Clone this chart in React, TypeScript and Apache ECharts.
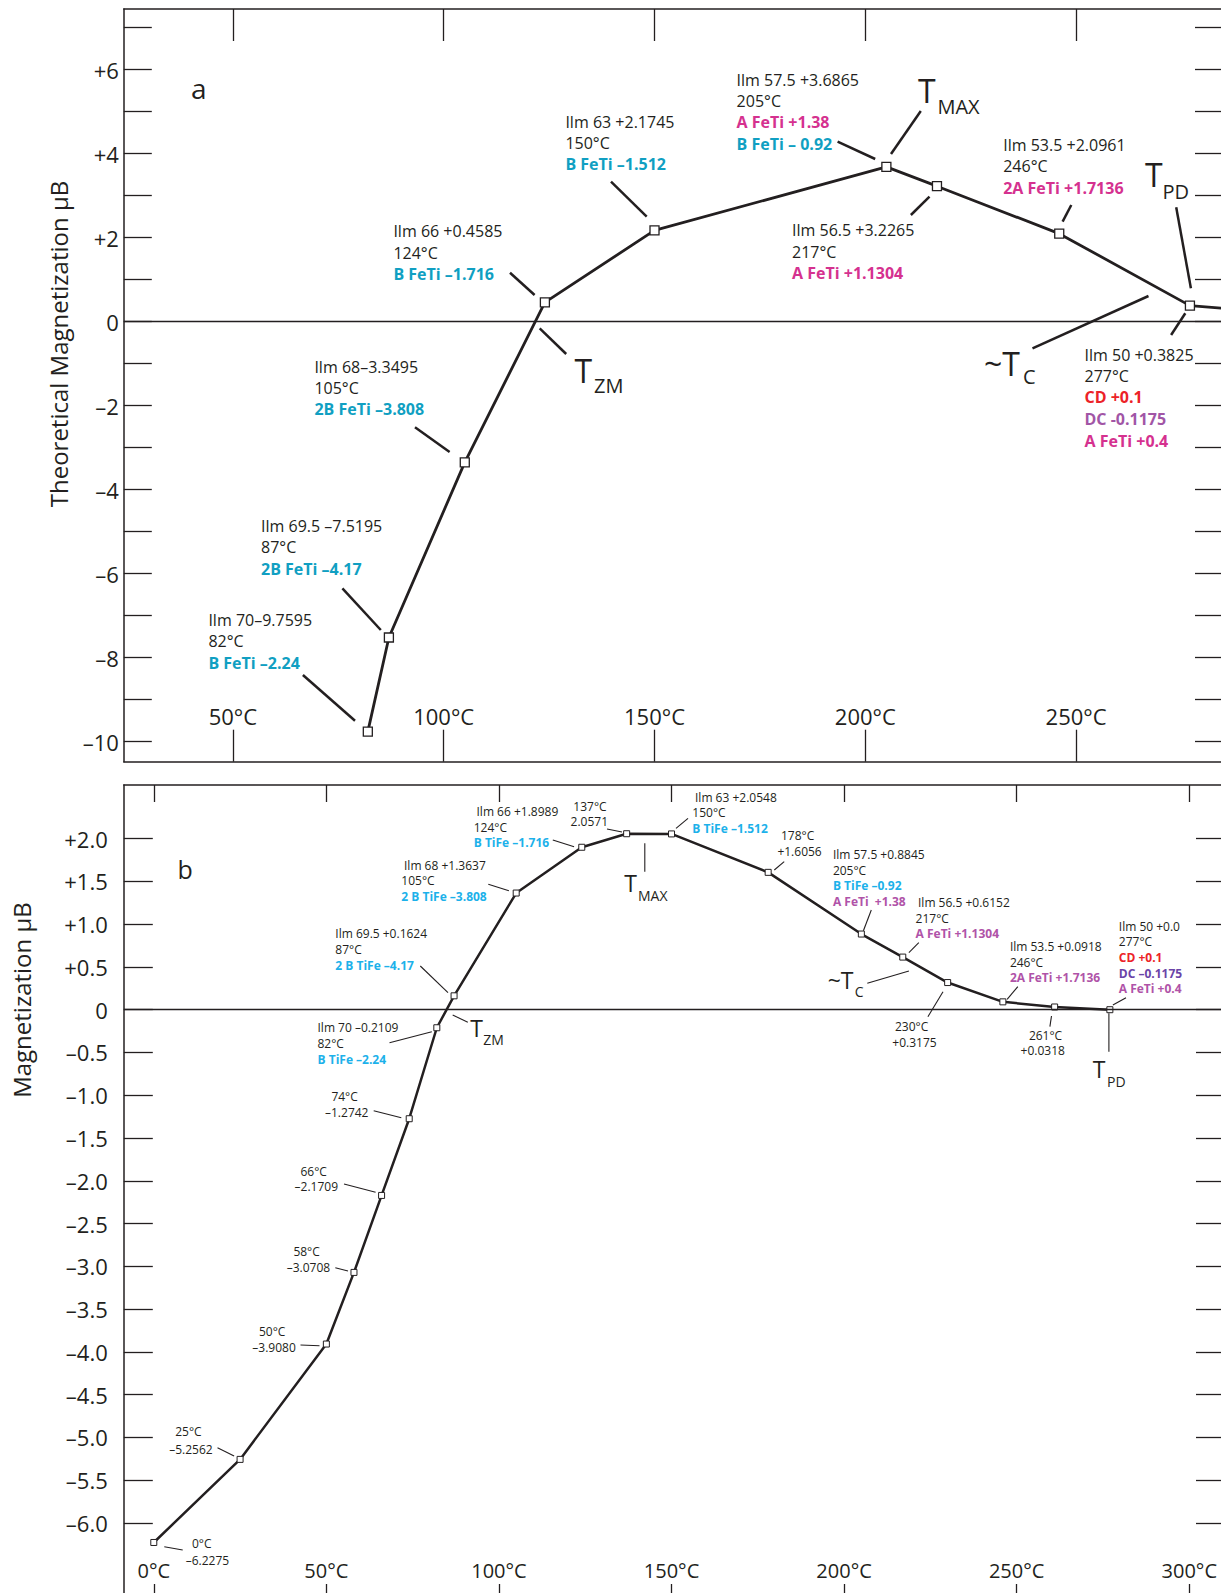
import React, { useEffect, useRef } from "react";
import * as echarts from "echarts";

// ---------- data ----------
const tempsA = [82, 87, 105, 124, 150, 205, 217, 246, 277, 290];
const magA = [-9.7595, -7.5195, -3.3495, 0.4585, 2.1745, 3.6865, 3.2265, 2.0961, 0.3825, 0.28];

const tempsB = [0, 25, 50, 58, 66, 74, 82, 87, 105, 124, 137, 150, 178, 205, 217, 230, 246, 261, 277];
const magB = [
  -6.2275, -5.2562, -3.908, -3.0708, -2.1709, -1.2742, -0.2109, 0.1624, 1.3637, 1.8989, 2.0571,
  2.0548, 1.6056, 0.8845, 0.6152, 0.3175, 0.0918, 0.0318, 0.0,
];

const xTicksA = [50, 100, 150, 200, 250];
const yTicksA = [-10, -9, -8, -7, -6, -5, -4, -3, -2, -1, 0, 1, 2, 3, 4, 5, 6, 7];
const yLabelsA = [-10, -8, -6, -4, -2, 0, 2, 4, 6];
const xTicksB = [0, 50, 100, 150, 200, 250, 300];
const yTicksB = [-6, -5.5, -5, -4.5, -4, -3.5, -3, -2.5, -2, -1.5, -1, -0.5, 0, 0.5, 1, 1.5, 2];

const titleA = "Theoretical Magnetization \u03bcB";
const titleB = "Magnetization \u03bcB";

// ---------- styles ----------
const BLACK = "#231f20";
const TEAL = "#109fc2";
const MAGENTA = "#d5318f";
const RED = "#ec2227";
const PURPLE_A = "#a155a6";
const SKY = "#1cb1ea";
const PURPLE_B = "#b053a8";
const VIOLET = "#6b44a8";
const FONT = "'Open Sans', 'Noto Sans', sans-serif";

type L = [string, number, number, string?, boolean?];
type Ann = { lines: L[]; leader: number[] };

// panel a annotations (layout)
const annA: Ann[] = [
  { lines: [["Ilm 70\u20139.7595", 208.4, 620], ["82\u00b0C", 208.4, 641.3], ["B FeTi \u20132.24", 208.4, 662.7, TEAL, true]], leader: [302.9, 675, 355, 720.7] },
  { lines: [["Ilm 69.5 \u20137.5195", 261, 525.7], ["87\u00b0C", 261, 547], ["2B FeTi \u20134.17", 261, 568.7, TEAL, true]], leader: [342.4, 588.3, 380.8, 630] },
  { lines: [["Ilm 68\u20133.3495", 314.4, 366.7], ["105\u00b0C", 314.4, 388], ["2B FeTi \u20133.808", 314.4, 409.3, TEAL, true]], leader: [415, 427.3, 449.6, 452] },
  { lines: [["Ilm 66 +0.4585", 393.4, 231], ["124\u00b0C", 393.4, 252.5], ["B FeTi \u20131.716", 393.4, 274, TEAL, true]], leader: [510, 272.7, 534.6, 295] },
  { lines: [["Ilm 63 +2.1745", 565.4, 121.7], ["150\u00b0C", 565.4, 143], ["B FeTi \u20131.512", 565.4, 164, TEAL, true]], leader: [611, 181.7, 646.7, 216.7] },
  { lines: [["Ilm 57.5 +3.6865", 736.6, 80], ["205\u00b0C", 736.6, 100.7], ["A FeTi +1.38", 736.6, 122.3, MAGENTA, true], ["B FeTi \u2013 0.92", 736.6, 144, TEAL, true]], leader: [837.6, 141.7, 875.2, 159] },
  { lines: [["Ilm 56.5 +3.2265", 792, 230], ["217\u00b0C", 792, 251.7], ["A FeTi +1.1304", 792, 273.3, MAGENTA, true]], leader: [910.9, 215, 929.5, 196.7] },
  { lines: [["Ilm 53.5 +2.0961", 1003.2, 145], ["246\u00b0C", 1003.2, 166], ["2A FeTi +1.7136", 1003.2, 187.7, MAGENTA, true]], leader: [1071.3, 205, 1062.6, 221.7] },
  { lines: [["Ilm 50 +0.3825", 1084.5, 355], ["277\u00b0C", 1084.5, 376], ["CD +0.1", 1084.5, 397.3, RED, true], ["DC -0.1175", 1084.5, 419, PURPLE_A, true], ["A FeTi +0.4", 1084.5, 440.7, MAGENTA, true]], leader: [1171.1, 335, 1185.3, 313.3] },
];

type TL = { main: string; sub: string; t: number[]; s: number[]; leader: number[] };
const tA: TL[] = [
  { main: "T", sub: "ZM", t: [574.5, 370], s: [594, 385], leader: [539.7, 328.3, 566.2, 354] },
  { main: "T", sub: "MAX", t: [918, 90], s: [937.4, 106.7], leader: [891, 154, 920.8, 111] },
  { main: "T", sub: "PD", t: [1145, 174], s: [1162.4, 191.7], leader: [1176.2, 207.3, 1190.9, 288.3] },
  { main: "~T", sub: "C", t: [984, 363.4], s: [1023, 376], leader: [1032.5, 348.3, 1148.5, 296] },
];

const annB: Ann[] = [
  { lines: [["0\u00b0C", 192, 1543.3], ["\u20136.2275", 185.7, 1560]], leader: [164.3, 1546.7, 182.7, 1550] },
  { lines: [["25\u00b0C", 175.2, 1431], ["\u20135.2562", 169.2, 1449]], leader: [217.5, 1447.7, 234.1, 1456] },
  { lines: [["50\u00b0C", 259, 1331.7], ["\u20133.9080", 252.3, 1347.3]], leader: [300.5, 1345, 319.5, 1345.7] },
  { lines: [["58\u00b0C", 293.4, 1251], ["\u20133.0708", 286.7, 1267.3]], leader: [335.3, 1267.7, 348, 1271] },
  { lines: [["66\u00b0C", 300.5, 1171], ["\u20132.1709", 294.6, 1186.7]], leader: [344, 1184, 375.6, 1192.3] },
  { lines: [["74\u00b0C", 331.4, 1096.7], ["\u20131.2742", 325, 1112.7]], leader: [373.7, 1110.7, 401.3, 1117.7] },
  { lines: [["Ilm 70 \u20130.2109", 317.5, 1027.3], ["82\u00b0C", 317.5, 1043.3], ["B TiFe \u20132.24", 317.5, 1059, SKY, true]], leader: [389.5, 1042.7, 431.8, 1031.7] },
  { lines: [["Ilm 69.5 +0.1624", 335.3, 933.7], ["87\u00b0C", 335.3, 949.3], ["2 B TiFe \u20134.17", 335.3, 965, SKY, true]], leader: [420.3, 966, 448, 992.7] },
  { lines: [["Ilm 68 +1.3637", 404, 865], ["105\u00b0C", 401.3, 880.3], ["2 B TiFe \u20133.808", 401.3, 896, SKY, true]], leader: [488.3, 884.3, 508.9, 890.7] },
  { lines: [["Ilm 66 +1.8989", 476.5, 811.7], ["124\u00b0C", 473.7, 827.3], ["B TiFe \u20131.716", 473.7, 842.7, SKY, true]], leader: [552.8, 840, 574.1, 846.7] },
  { lines: [["137\u00b0C", 573.3, 806], ["2.0571", 570.6, 821.7]], leader: [607, 829, 622, 832] },
  { lines: [["Ilm 63 +2.0548", 695, 797.3], ["150\u00b0C", 692.3, 812.7], ["B TiFe \u20131.512", 692.3, 828.7, SKY, true]], leader: [676, 828.3, 688, 818.3] },
  { lines: [["178\u00b0C", 781, 835.7], ["+1.6056", 777.4, 851.3]], leader: [784.2, 861.7, 774.3, 870] },
  { lines: [["Ilm 57.5 +0.8845", 832.9, 854.3], ["205\u00b0C", 832.9, 870], ["B TiFe \u20130.92", 832.9, 885.7, SKY, true], ["A FeTi  +1.38", 832.9, 901.3, PURPLE_B, true]], leader: [871.3, 910, 863.4, 930.7] },
  { lines: [["Ilm 56.5 +0.6152", 918, 902.7], ["217\u00b0C", 915.6, 918], ["A FeTi +1.1304", 915.6, 933.7, PURPLE_B, true]], leader: [918.8, 942.7, 908.9, 952.7] },
  { lines: [["230\u00b0C", 895, 1026.7], ["+0.3175", 892.3, 1042.3]], leader: [927.9, 1016.7, 943, 991.7] },
  { lines: [["Ilm 53.5 +0.0918", 1009.9, 946], ["246\u00b0C", 1009.9, 962], ["2A FeTi +1.7136", 1009.9, 977.3, PURPLE_B, true]], leader: [1017.8, 986.7, 1007.1, 999.3] },
  { lines: [["261\u00b0C", 1028.9, 1035], ["+0.0318", 1020.6, 1050.7]], leader: [1051.5, 1016, 1049.9, 1026.7] },
  { lines: [["Ilm 50 +0.0", 1118.8, 926], ["277\u00b0C", 1118.8, 941.7], ["CD +0.1", 1118.8, 957.3, RED, true], ["DC \u20130.1175", 1118.8, 973, VIOLET, true], ["A FeTi +0.4", 1118.8, 988.7, PURPLE_B, true]], leader: [1112.9, 1005, 1126, 997.7] },
];

const tB: TL[] = [
  { main: "T", sub: "MAX", t: [624.3, 883.3], s: [638, 895], leader: [644.8, 843.3, 644.8, 871.7] },
  { main: "T", sub: "ZM", t: [470.2, 1027.8], s: [483.2, 1039.3], leader: [452.7, 1015, 467.8, 1022.3] },
  { main: "T", sub: "PD", t: [1092.7, 1069], s: [1107, 1081.7], leader: [1108.9, 1013.3, 1108.9, 1051.7] },
  { main: "~T", sub: "C", t: [827.7, 980], s: [854.7, 991.7], leader: [867.3, 983.3, 908.9, 971] },
];

// ---------- helpers ----------
const text = (x: number, y: number, t: string, fs: number, color = BLACK, bold = false, extra: any = {}) => ({
  type: "text",
  x,
  y,
  silent: true,
  z: 10,
  ...extra,
  style: {
    text: t,
    fill: color,
    fontSize: fs,
    fontFamily: FONT,
    fontWeight: bold ? "bold" : "normal",
    align: extra.align || "left",
    textAlign: extra.align || "left",
    verticalAlign: "middle",
    textVerticalAlign: "middle",
  },
});
const seg = (l: number[], w: number) => ({
  type: "line",
  silent: true,
  z: 10,
  shape: { x1: l[0], y1: l[1], x2: l[2], y2: l[3] },
  style: { stroke: BLACK, lineWidth: w },
});
const signed = (v: number, d: number) =>
  v > 0 ? "+" + v.toFixed(d) : v < 0 ? "\u2013" + (-v).toFixed(d) : "0";

export default function App() {
  const ref = useRef<HTMLDivElement>(null);
  useEffect(() => {
    document.body.style.margin = "0";
    if (!ref.current) return;
    const chart = echarts.init(ref.current, null, { renderer: "svg" });

    const axisLineStyle = { color: BLACK, width: 1.5 };
    const tickStyle = { color: BLACK, width: 1.3 };

    const graphics: any[] = [];
    annA.forEach((a) => {
      a.lines.forEach((l) => graphics.push(text(l[1], l[2], l[0], 16, l[3] || BLACK, !!l[4])));
      graphics.push(seg(a.leader, 2.5));
    });
    tA.forEach((t) => {
      graphics.push(text(t.t[0], t.t[1], t.main, 32));
      graphics.push(text(t.s[0], t.s[1], t.sub, 20));
      graphics.push(seg(t.leader, 2.5));
    });
    annB.forEach((a) => {
      a.lines.forEach((l) => graphics.push(text(l[1], l[2], l[0], 12, l[3] || BLACK, !!l[4])));
      graphics.push(seg(a.leader, 1.1));
    });
    tB.forEach((t) => {
      graphics.push(text(t.t[0], t.t[1], t.main, 23));
      graphics.push(text(t.s[0], t.s[1], t.sub, 14));
      graphics.push(seg(t.leader, 1.1));
    });
    graphics.push(text(191, 88, "a", 28));
    graphics.push(text(177.5, 869, "b", 25));
    graphics.push(text(58, 344, titleA, 24, BLACK, false, { rotation: Math.PI / 2, align: "center" }));
    graphics.push(text(21, 1000, titleB, 24, BLACK, false, { rotation: Math.PI / 2, align: "center" }));

    const xA = { min: 24.12, max: 284.37 };
    const xB = { min: -8.69, max: 309.2 };
    const yA = { min: -10.476, max: 7.445 };
    const yB = { min: -6.818, max: 2.6266 };

    const mkX = (grid: number, pos: string, range: any, ticks: number[], len: number, labels: any, showLine = true) => ({
      type: "value",
      gridIndex: grid,
      position: pos,
      ...range,
      axisLine: { show: showLine, onZero: false, lineStyle: axisLineStyle },
      axisTick: { show: true, inside: true, length: len, customValues: ticks, lineStyle: tickStyle },
      axisLabel: labels
        ? { show: true, inside: true, customValues: ticks, ...labels, fontFamily: FONT, color: BLACK, formatter: (v: number) => v + "\u00b0C" }
        : { show: false },
      splitLine: { show: false },
    });
    const mkY = (grid: number, pos: string, range: any, ticks: number[], len: number, labels: any, showLine: boolean) => ({
      type: "value",
      gridIndex: grid,
      position: pos,
      ...range,
      axisLine: { show: showLine, onZero: false, lineStyle: axisLineStyle },
      axisTick: { show: true, inside: true, length: len, customValues: ticks, lineStyle: tickStyle },
      axisLabel: labels ? { show: true, fontFamily: FONT, color: BLACK, ...labels } : { show: false },
      splitLine: { show: false },
    });

    const zeroLine = {
      silent: true,
      symbol: ["none", "none"],
      label: { show: false },
      lineStyle: { color: BLACK, width: 1.3, type: "solid" },
      data: [{ yAxis: 0 }],
    };

    chart.setOption({
      animation: false,
      backgroundColor: "#ffffff",
      grid: [
        { left: 123.8, top: 9, width: 1097.2, height: 752.7, show: false },
        { left: 123.8, top: 785, width: 1097.2, height: 808, show: false },
      ],
      xAxis: [
        mkX(0, "bottom", xA, xTicksA, 32, { margin: 35, fontSize: 22 }),
        mkX(0, "top", xA, xTicksA, 32, null),
        mkX(1, "bottom", xB, xTicksB, 9, { margin: 13, fontSize: 20 }, false),
        mkX(1, "top", xB, xTicksB, 17, null),
      ],
      yAxis: [
        mkY(0, "left", yA, yTicksA, 28, { customValues: yLabelsA, margin: 5, fontSize: 22, formatter: (v: number) => signed(v, 0) }, true),
        mkY(0, "right", yA, yTicksA, 26, null, false),
        mkY(1, "left", yB, yTicksB, 29, { customValues: yTicksB, margin: 16, fontSize: 22, formatter: (v: number) => signed(v, 1) }, true),
        mkY(1, "right", yB, yTicksB, 25, null, false),
      ],
      series: [
        {
          type: "line",
          xAxisIndex: 0,
          yAxisIndex: 0,
          data: tempsA.map((t, i) => [t, magA[i]]),
          symbol: "rect",
          symbolSize: 9,
          showSymbol: true,
          clip: true,
          silent: true,
          emphasis: { disabled: true },
          itemStyle: { color: "#ffffff", borderColor: BLACK, borderWidth: 1.3 },
          lineStyle: { color: BLACK, width: 2.8 },
          markLine: zeroLine,
          z: 3,
        },
        {
          type: "line",
          xAxisIndex: 2,
          yAxisIndex: 2,
          data: tempsB.map((t, i) => [t, magB[i]]),
          symbol: "rect",
          symbolSize: 6,
          showSymbol: true,
          clip: true,
          silent: true,
          emphasis: { disabled: true },
          itemStyle: { color: "#ffffff", borderColor: BLACK, borderWidth: 1 },
          lineStyle: { color: BLACK, width: 2.5 },
          markLine: zeroLine,
          z: 3,
        },
      ],
      graphic: { elements: graphics },
    });
    return () => chart.dispose();
  }, []);
  return <div ref={ref} style={{ width: 1221, height: 1593, display: "block" }} />;
}
